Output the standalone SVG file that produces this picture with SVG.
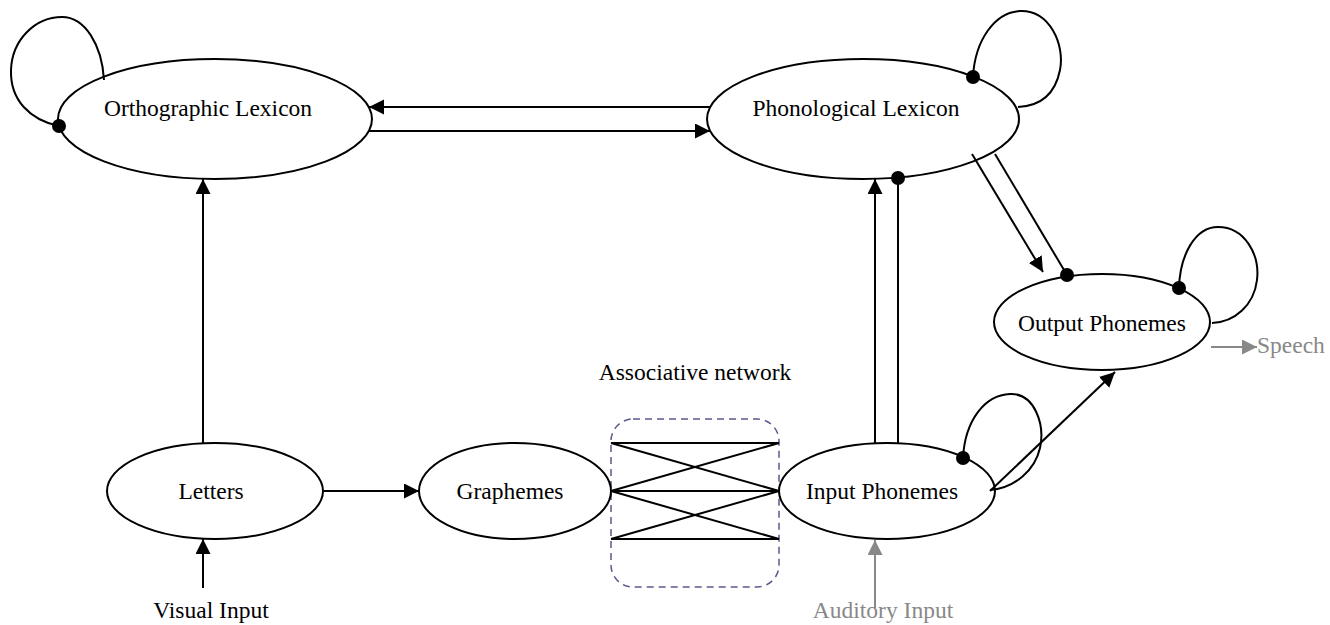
<svg xmlns="http://www.w3.org/2000/svg" width="1330" height="625" viewBox="0 0 1330 625">
<style>
.node{fill:#fff;stroke:#000;stroke-width:2}
.lbl{font-family:"Liberation Serif","Times New Roman",serif;font-size:23.5px;fill:#000;text-anchor:middle}
.gl{fill:#888}
.c{fill:none;stroke:#000;stroke-width:2}
.g{fill:none;stroke:#888;stroke-width:2}
.dot{fill:#000}
</style>
<defs>
<marker id="ah" markerUnits="userSpaceOnUse" markerWidth="16" markerHeight="16" refX="15" refY="7.5" orient="auto"><path d="M0,0 L15,7.5 L0,15 z" fill="#000"/></marker>
<marker id="ahg" markerUnits="userSpaceOnUse" markerWidth="16" markerHeight="16" refX="15" refY="7.5" orient="auto"><path d="M0,0 L15,7.5 L0,15 z" fill="#888"/></marker>
</defs>
<rect width="1330" height="625" fill="#fff"/>
<g id="assoc-network">
<rect x="611" y="419" width="168" height="168" rx="22" fill="none" stroke="#5a5a8c" stroke-width="1.5" stroke-dasharray="7,5"/>
<g class="c">
<line x1="611" y1="443" x2="779" y2="443"/>
<line x1="611" y1="491" x2="779" y2="491"/>
<line x1="611" y1="539" x2="779" y2="539"/>
<line x1="611" y1="443" x2="779" y2="491"/>
<line x1="611" y1="491" x2="779" y2="443"/>
<line x1="611" y1="491" x2="779" y2="539"/>
<line x1="611" y1="539" x2="779" y2="491"/>
</g>
<text class="lbl" x="695" y="380">Associative network</text>
</g>
<g id="ortho">
<ellipse class="node" cx="215" cy="119" rx="157" ry="60"/>
<text class="lbl" x="208" y="116">Orthographic Lexicon</text>
</g>
<g id="phon">
<ellipse class="node" cx="863" cy="119" rx="156" ry="60"/>
<text class="lbl" x="856" y="116">Phonological Lexicon</text>
</g>
<g id="letters">
<ellipse class="node" cx="215" cy="491" rx="108" ry="48"/>
<text class="lbl" x="211" y="499">Letters</text>
</g>
<g id="graphemes">
<ellipse class="node" cx="515" cy="491" rx="96" ry="48"/>
<text class="lbl" x="510" y="499">Graphemes</text>
</g>
<g id="input-phonemes">
<ellipse class="node" cx="887" cy="491" rx="108" ry="48"/>
<text class="lbl" x="882" y="499">Input Phonemes</text>
</g>
<g id="output-phonemes">
<ellipse class="node" cx="1102" cy="322" rx="108" ry="48"/>
<text class="lbl" x="1102" y="331">Output Phonemes</text>
</g>
<g id="visual-input">
<text class="lbl" x="211" y="618">Visual Input</text>
</g>
<g id="auditory-input">
<text class="lbl gl" x="883" y="618">Auditory Input</text>
</g>
<g id="speech">
<text class="lbl gl" x="1257" y="353" style="text-anchor:start">Speech</text>
</g>
<g id="connectors">
<line class="c" x1="710" y1="107" x2="369" y2="107" marker-end="url(#ah)"/>
<line class="c" x1="369" y1="131" x2="710" y2="131" marker-end="url(#ah)"/>
<line class="c" x1="203" y1="443" x2="203" y2="179" marker-end="url(#ah)"/>
<line class="c" x1="203" y1="588" x2="203" y2="539" marker-end="url(#ah)"/>
<line class="c" x1="323" y1="491" x2="419" y2="491" marker-end="url(#ah)"/>
<line class="c" x1="875" y1="443" x2="875" y2="179" marker-end="url(#ah)"/>
<line class="c" x1="898" y1="443" x2="898" y2="178"/>
<line class="c" x1="972" y1="154" x2="1043" y2="272" marker-end="url(#ah)"/>
<line class="c" x1="995" y1="154" x2="1067" y2="275"/>
<line class="c" x1="990" y1="491" x2="1115" y2="372" marker-end="url(#ah)"/>
<line class="g" x1="1211" y1="347" x2="1257" y2="347" marker-end="url(#ahg)"/>
<line class="g" x1="875" y1="608" x2="875" y2="540" marker-end="url(#ahg)"/>
<path class="c" d="M59,126 C30,120 10,100 11,70 C12,40 35,17 62,17 C85,17 102,45 104,80"/>
<path class="c" d="M973,77 C975,40 995,12 1020,11 C1050,10 1065,45 1060,70 C1055,95 1040,106 1018,107"/>
<path class="c" d="M963,458 C965,420 985,395 1010,394 C1035,393 1045,425 1040,448 C1035,470 1015,488 990,490"/>
<path class="c" d="M1179,288 C1180,255 1195,227 1218,227 C1245,227 1260,255 1257,280 C1254,305 1235,322 1212,323"/>
<circle class="dot" cx="59" cy="126" r="7"/>
<circle class="dot" cx="973" cy="77" r="7"/>
<circle class="dot" cx="898" cy="178" r="7"/>
<circle class="dot" cx="1067" cy="275" r="7"/>
<circle class="dot" cx="963" cy="458" r="7"/>
<circle class="dot" cx="1179" cy="288" r="7"/>
</g>
</svg>
